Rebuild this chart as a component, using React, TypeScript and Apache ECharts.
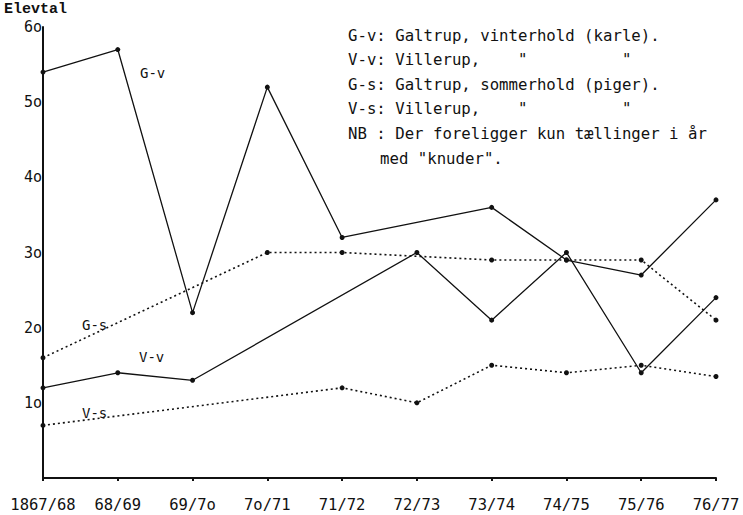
import React, { useEffect, useRef } from "react";
import * as echarts from "echarts";

const categories = ["1867/68", "68/69", "69/7o", "7o/71", "71/72", "72/73", "73/74", "74/75", "75/76", "76/77"];
const yTickLabels: Record<number, string> = { 10: "1o", 20: "2o", 30: "3o", 40: "4o", 50: "5o", 60: "6o" };

const gv = [54, 57, 22, 52, 32, null, 36, 29, 27, 37];
const vv = [12, 14, 13, null, null, 30, 21, 30, 14, 24];
const gs = [16, null, null, 30, 30, null, 29, 29, 29, 21];
const vs = [7, null, null, null, 12, 10, 15, 14, 15, 13.5];

const legendLines = [
  "G-v: Galtrup, vinterhold (karle).",
  "V-v: Villerup,    \"          \"",
  "G-s: Galtrup, sommerhold (piger).",
  "V-s: Villerup,    \"          \"",
  "NB : Der foreligger kun tællinger i år",
];
const legendLast = "med \"knuder\".";

const MONO = "'DejaVu Sans Mono', 'Liberation Mono', monospace";
const SLAB = "'Liberation Mono', 'DejaVu Sans Mono', monospace";

export default function App() {
  const ref = useRef<HTMLDivElement>(null);
  useEffect(() => {
    if (!ref.current) return;
    const chart = echarts.init(ref.current, undefined, { renderer: "svg" });
    const mk = (name: string, data: (number | null)[], dotted: boolean) => ({
      name,
      type: "line",
      data,
      connectNulls: true,
      symbol: "circle",
      symbolSize: 5,
      itemStyle: { color: "#111" },
      lineStyle: { color: "#111", width: dotted ? 1.6 : 1.3, type: dotted ? [2, 3] : "solid" },
    });
    const txt = (text: string, left: number, top: number, size: number, font = MONO, weight = "normal") => ({
      type: "text",
      left,
      top,
      style: { text, font: `${weight} ${size}px ${font}`, fill: "#111", lineHeight: size },
    });
    chart.setOption({
      animation: false,
      backgroundColor: "#fff",
      grid: { left: 43, right: 27, top: 27, bottom: 37 },
      xAxis: {
        type: "category",
        data: categories,
        boundaryGap: false,
        axisLine: { lineStyle: { color: "#111", width: 2 } },
        axisTick: { show: true, interval: 0, length: 3, inside: false, lineStyle: { color: "#111", width: 2 } },
        axisLabel: { interval: 0, color: "#111", fontFamily: MONO, fontSize: 15.5, margin: 19 },
        splitLine: { show: false },
      },
      yAxis: {
        type: "value",
        min: 0,
        max: 60,
        interval: 10,
        axisLine: { show: true, lineStyle: { color: "#111", width: 2 } },
        axisTick: { show: false },
        splitLine: { show: false },
        axisLabel: {
          color: "#111",
          fontFamily: MONO,
          fontSize: 15,
          lineHeight: 13,
          margin: 1,
          formatter: (v: number) => yTickLabels[v] || "",
        },
      },
      graphic: [
        txt("Elevtal", 4, 2, 15, SLAB, "bold"),
        txt("G-v", 140, 66, 14),
        txt("G-s", 82, 318, 14),
        txt("V-v", 139, 350, 14),
        txt("V-s", 82, 406, 14),
        ...legendLines.map((t, i) => txt(t, 348, 27 + i * 24.6, 15.7)),
        txt(legendLast, 380, 150, 15.7),
      ],
      series: [mk("G-v", gv, false), mk("V-v", vv, false), mk("G-s", gs, true), mk("V-s", vs, true)],
    });
    return () => chart.dispose();
  }, []);
  return <div ref={ref} style={{ width: 743, height: 515, position: "absolute", left: 0, top: 0 }} />;
}
